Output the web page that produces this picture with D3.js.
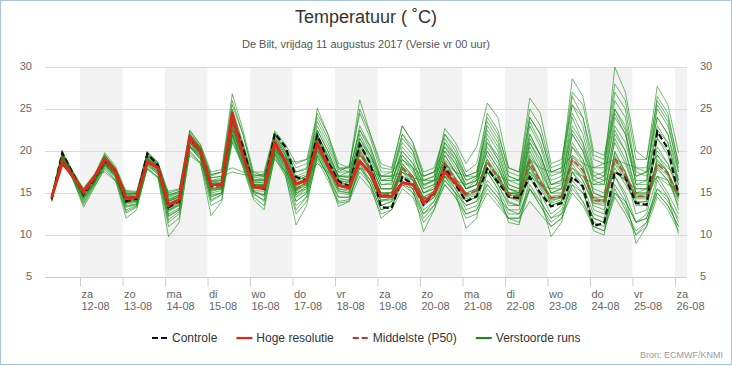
<!DOCTYPE html>
<html><head><meta charset="utf-8">
<script src="https://cdn.jsdelivr.net/npm/d3@7"></script>
<style>body{margin:0;background:#fff}svg{display:block}</style>
</head><body><svg id="c" width="732" height="366"></svg>
<script>
// ---- DATA ----
const dayNames = ["za","zo","ma","di","wo","do","vr","za","zo","ma","di","wo","do","vr","za"];
const dayDates = ["12-08","13-08","14-08","15-08","16-08","17-08","18-08","19-08","20-08","21-08","22-08","23-08","24-08","25-08","26-08"];
const yTicks = [5,10,15,20,25,30];
const seriesNames = ["Controle","Hoge resolutie","Middelste (P50)","Verstoorde runs"];

const controle = [14.3, 19.8,17.3,14.8,16.6, 18.8,17.6,14.0,14.3, 19.7,18.3,13.3,14.0, 21.5,20.0,15.8,16.0, 24.0,20.5,15.8,15.5, 22.1,20.5,16.9,16.5, 21.9,18.8,16.4,15.8, 20.8,18.5,13.3,13.2, 16.9,16.0,13.6,15.0, 18.1,16.0,14.0,14.6, 17.9,16.3,14.6,14.4, 16.9,15.0,13.4,13.8, 16.9,15.8,11.1,11.4, 17.5,16.9,13.8,13.6, 22.3,20.3,14.8];
const hogeResolutie = [14.5, 18.5,17.0,15.2,16.9, 19.1,17.6,14.4,14.5, 18.7,18.0,13.6,14.2, 21.7,20.0,16.0,16.0, 24.5,19.5,15.7,15.6, 21.1,18.7,16.1,16.5, 20.9,18.3,15.9,15.6, 18.8,17.3,14.6,14.6, 16.2,16.0,13.8,15.0, 17.5,16.2,14.8];
const middelste = [14.4, 19.3,17.1,14.9,16.6, 18.8,17.4,14.2,14.3, 19.0,18.0,13.4,14.0, 21.2,19.8,15.6,15.8, 23.0,19.5,15.8,15.8, 20.8,18.8,15.5,16.2, 21.0,18.3,16.0,15.7, 19.8,17.8,14.8,14.9, 18.0,16.8,14.3,15.0, 18.5,16.6,14.8,15.3, 18.7,16.9,14.8,14.6, 18.7,16.3,14.4,14.6, 19.0,17.7,14.1,14.0, 19.1,17.1,14.6,14.6, 18.5,17.3,14.6];

const run01 = [14.5, 19.6,17.3,15.0,16.8, 19.2,17.8,14.6,14.8, 19.5,18.3,14.0,14.6, 21.8,20.2,16.2,16.5, 24.5,20.5,16.5,16.8, 21.5,19.5,16.8,17.2, 22.0,19.5,17.0,16.8, 21.5,19.0,16.0,16.2, 20.0,18.5,15.5,16.0, 20.5,18.5,16.0,16.8, 21.5,19.0,15.5,15.2, 22.0,19.5,16.0,16.2, 24.0,21.0,17.0,17.5, 30.0,27.0,20.0,19.0, 27.7,25.5,19.8];
const run02 = [14.6, 19.8,17.5,15.4,17.0, 19.5,18.0,15.0,15.0, 19.8,18.5,14.8,15.2, 22.0,20.5,17.0,17.5, 25.5,22.0,17.2,17.0, 22.0,20.0,17.5,18.0, 23.5,21.0,17.8,18.0, 26.1,22.0,18.5,18.0, 23.0,21.0,17.0,17.5, 22.0,20.0,17.0,17.5, 23.0,21.0,17.0,16.5, 24.0,22.0,17.5,18.0, 28.6,26.5,20.0,19.5, 25.0,23.0,18.0,18.0, 24.0,22.0,17.5];
const run03 = [14.2, 19.0,17.0,14.5,16.2, 18.5,17.2,13.8,14.0, 19.2,18.0,13.0,13.8, 21.0,19.8,15.5,15.5, 23.5,19.8,15.8,15.5, 21.0,19.0,15.2,16.5, 21.5,19.0,16.5,16.2, 21.0,19.5,17.0,17.0, 21.5,20.0,16.5,17.0, 22.7,21.0,18.5,20.5, 25.7,24.0,18.0,17.5, 26.3,24.5,18.5,19.0, 25.5,24.0,19.0,18.5, 24.5,22.0,17.0,17.5, 25.0,23.0,18.0];
const run04 = [14.3, 19.4,17.2,15.2,16.9, 19.0,17.6,14.5,14.6, 18.8,17.8,14.2,14.8, 21.5,20.0,16.5,16.0, 23.0,20.0,16.0,16.0, 20.5,18.5,15.0,15.5, 25.1,22.0,18.0,17.5, 22.5,20.0,16.5,16.5, 19.5,18.0,15.0,15.5, 19.5,17.5,15.5,16.0, 20.5,18.5,15.0,15.0, 21.0,19.0,15.5,15.5, 22.0,20.0,16.5,17.0, 26.0,24.0,17.0,17.5, 26.5,24.5,18.5];
const run05 = [14.0, 18.8,16.6,13.3,15.6, 18.0,16.6,12.0,13.0, 18.0,16.9,9.8,11.5, 20.0,18.6,12.3,14.0, 22.0,18.0,14.2,13.0, 19.5,17.2,11.2,13.5, 19.5,17.0,13.4,14.0, 18.5,16.0,12.0,13.0, 17.0,15.5,10.4,13.0, 17.0,15.0,10.8,12.0, 17.5,15.5,11.5,11.2, 17.0,14.5,9.8,11.5, 17.5,15.5,10.5,10.0, 17.0,14.5,9.0,11.0, 16.5,14.5,10.2];
const run06 = [14.8, 18.6,16.8,15.6,17.2, 17.5,16.4,15.3,15.2, 17.8,16.8,15.2,15.5, 19.5,18.5,16.8,17.0, 17.5,17.2,17.0,17.2, 19.0,17.5,16.5,17.0, 18.5,17.5,17.0,17.5, 18.0,17.5,17.0,17.0, 17.5,16.8,16.5,16.5, 17.0,16.5,16.0,16.5, 17.5,16.5,15.0,15.0, 17.0,16.0,15.5,16.0, 18.0,17.0,16.0,16.5, 17.5,16.5,15.5,15.5, 17.0,16.0,15.5];
const run07 = [14.6, 19.1,17.2,15.3,16.5, 18.3,17.2,15.0,15.0, 18.5,17.5,14.8,15.0, 20.5,19.5,17.2,17.5, 18.0,17.5,17.5,17.0, 20.0,19.0,18.7,19.0, 20.0,18.5,17.5,18.3, 19.5,18.0,17.0,17.5, 19.0,18.0,17.0,17.5, 18.5,17.5,17.0,17.0, 18.0,17.0,16.5,16.5, 19.0,18.0,17.5,18.0, 19.5,18.5,18.0,18.5, 19.0,18.5,18.0,17.5, 19.5,18.0,17.0];
const run08 = [14.4, 19.5,17.2,15.0,16.7, 18.9,17.5,14.3,14.4, 19.1,18.1,13.6,14.2, 21.3,19.9,15.8,16.0, 23.5,19.8,16.0,15.9, 21.0,18.9,15.8,16.5, 21.2,18.5,16.2,16.0, 20.2,18.0,15.0,15.0, 18.5,17.0,14.5,15.2, 18.8,16.8,15.0,15.5, 19.0,17.0,14.5,14.2, 19.2,16.5,14.0,14.5, 19.5,18.0,14.5,14.0, 19.8,17.5,14.0,14.0, 19.0,17.5,14.5];
const run09 = [14.3, 19.2,17.0,14.7,16.5, 18.6,17.3,14.0,14.1, 18.8,17.9,13.0,13.6, 21.0,19.6,15.2,15.5, 22.5,19.2,15.5,15.5, 20.5,18.5,15.0,15.8, 20.5,18.0,15.5,15.2, 19.0,17.0,14.0,14.5, 17.5,16.5,13.5,14.5, 18.0,16.0,14.0,14.5, 18.0,16.0,13.5,13.5, 18.0,15.5,13.5,14.0, 18.5,16.5,13.5,13.0, 18.5,16.5,13.5,13.5, 18.0,16.5,13.5];
const run10 = [14.5, 19.4,17.1,15.1,16.8, 19.1,17.6,14.5,14.5, 19.4,18.2,13.8,14.4, 21.6,20.1,16.0,16.2, 24.0,20.0,16.2,16.2, 21.2,19.2,16.0,16.8, 21.8,19.0,16.5,16.3, 20.8,18.5,15.5,15.5, 19.0,17.5,15.0,15.5, 19.5,17.5,15.5,16.0, 20.0,18.0,15.0,14.8, 20.5,18.0,15.0,15.5, 21.0,19.0,15.5,15.0, 21.0,18.5,15.0,15.0, 20.5,18.5,15.0];
const run11 = [14.2, 19.0,16.9,14.4,16.3, 18.5,17.1,13.5,13.7, 18.6,17.6,12.5,13.2, 20.8,19.4,14.8,15.0, 22.0,18.8,15.0,14.8, 20.0,18.0,14.0,15.0, 20.0,17.5,15.0,14.8, 18.5,16.5,13.5,14.0, 16.5,15.5,12.5,14.0, 17.0,15.5,13.0,13.5, 16.5,15.0,12.5,12.5, 16.0,14.0,12.0,13.0, 16.5,15.0,12.0,11.5, 16.0,14.0,11.5,12.0, 15.5,14.0,12.0];
const run12 = [14.6, 19.7,17.4,15.3,17.0, 19.4,17.9,14.8,14.9, 19.7,18.5,14.5,15.0, 22.2,20.5,16.8,17.0, 25.0,21.0,16.8,17.0, 22.0,20.0,17.5,17.8, 23.0,20.5,17.5,17.5, 22.5,20.5,17.0,17.0, 21.0,19.5,16.5,17.0, 21.5,19.5,17.0,17.5, 22.5,20.5,16.5,16.0, 23.5,21.0,17.0,17.5, 25.5,23.0,17.5,17.0, 23.0,21.0,16.5,16.5, 22.5,21.0,16.5];
const run13 = [14.1, 18.9,16.7,13.8,16.0, 18.2,16.9,13.0,13.5, 18.3,17.2,11.5,12.5, 20.5,19.0,14.0,14.8, 21.5,18.5,15.0,14.0, 19.8,17.5,13.0,14.5, 19.5,17.0,14.0,14.2, 18.0,16.0,13.0,13.5, 16.5,15.0,12.0,13.5, 16.5,15.0,12.5,13.0, 16.0,14.5,12.0,12.0, 15.5,13.5,11.5,12.5, 16.0,14.0,11.5,11.0, 15.5,13.0,10.5,11.5, 15.0,13.5,11.0];
const run14 = [14.4, 19.3,17.1,14.9,16.6, 18.8,17.4,14.2,14.3, 19.0,18.0,13.3,14.0, 21.2,19.8,15.6,15.8, 23.0,19.5,15.8,15.8, 20.8,18.8,15.5,16.2, 21.0,18.3,16.0,15.7, 19.8,17.8,14.8,14.9, 18.0,16.8,14.3,15.0, 18.5,16.6,14.8,15.3, 18.7,16.9,14.8,14.6, 18.7,16.3,14.4,14.6, 19.0,17.7,14.1,14.0, 19.1,17.1,14.6,14.6, 18.5,17.3,14.6];
const run15 = [14.5, 19.6,17.4,15.2,16.9, 19.3,17.7,14.7,14.8, 19.6,18.4,14.1,14.7, 22.0,20.3,16.4,16.6, 24.8,20.8,16.6,16.6, 21.8,19.6,16.4,17.0, 22.5,20.0,17.0,17.0, 23.0,20.5,16.5,16.8, 22.0,20.0,16.0,16.5, 21.0,19.0,15.5,16.5, 23.5,21.5,17.0,16.5, 22.0,19.5,16.0,16.5, 23.0,21.0,16.5,16.0, 24.0,22.0,16.0,16.0, 23.0,21.0,16.0];
const run16 = [14.3, 19.1,17.0,14.6,16.4, 18.7,17.3,13.9,14.0, 18.9,17.9,12.8,13.5, 21.1,19.7,15.3,15.5, 22.8,19.3,15.6,15.4, 20.6,18.6,14.8,15.8, 20.8,18.2,15.5,15.4, 19.5,17.5,14.5,14.5, 18.5,17.0,14.0,14.8, 18.0,16.0,14.0,14.5, 19.5,17.5,14.0,13.5, 20.0,17.5,13.5,14.0, 20.5,18.5,13.0,12.5, 20.0,17.5,12.5,13.0, 19.5,17.5,13.0];
const run17 = [14.6, 19.5,17.3,15.1,16.9, 19.6,17.9,14.9,15.0, 19.8,18.6,14.6,15.2, 22.4,20.7,17.2,17.5, 26.0,22.0,17.0,17.3, 22.2,20.3,18.0,18.5, 24.0,21.5,18.0,18.0, 24.5,21.5,17.5,17.5, 22.0,20.5,17.0,17.5, 20.5,19.0,16.5,17.0, 24.5,22.5,17.5,17.0, 24.0,22.0,17.5,17.5, 26.5,24.0,18.0,18.0, 27.0,25.0,17.5,17.0, 25.5,23.5,17.5];
const run18 = [14.2, 18.9,16.8,14.2,16.1, 18.4,17.0,13.3,13.6, 18.5,17.5,12.2,13.0, 20.6,19.2,14.5,15.0, 21.8,18.6,15.2,14.6, 20.2,18.0,14.5,15.2, 20.2,17.8,15.2,15.0, 19.0,17.0,14.0,14.2, 17.5,16.0,13.5,14.5, 17.5,15.5,13.5,14.0, 17.5,15.5,13.0,13.0, 17.5,15.0,12.5,13.5, 17.5,16.0,12.5,12.0, 17.0,15.0,11.5,12.5, 17.0,15.0,12.5];
const run19 = [14.7, 19.9,17.6,15.5,17.1, 19.8,18.2,15.2,15.1, 19.9,18.7,15.0,15.4, 22.5,20.8,17.5,17.8, 26.8,22.5,17.5,17.5, 22.4,20.8,18.5,19.0, 24.5,22.0,18.5,18.0, 25.0,22.0,18.0,17.8, 23.0,21.0,17.5,18.0, 22.0,20.5,17.5,18.5, 24.0,22.0,18.0,17.5, 25.0,23.0,18.0,18.5, 27.0,25.5,19.5,19.0, 28.0,26.0,19.0,19.0, 26.0,24.0,18.5];
const run20 = [14.4, 19.2,17.0,14.8,16.6, 18.7,17.3,14.1,14.2, 18.9,17.9,13.2,13.9, 21.0,19.7,15.4,15.6, 22.7,19.3,15.7,15.6, 20.4,18.3,15.2,16.0, 20.5,18.0,15.8,15.5, 19.0,17.5,15.0,15.0, 17.0,16.5,14.0,14.5, 17.0,16.0,14.5,15.0, 18.0,16.5,14.5,14.0, 17.5,16.0,14.5,14.5, 17.5,17.0,14.5,14.5, 17.5,16.5,14.5,14.5, 17.0,16.5,14.5];
const run21 = [14.5, 19.4,17.2,15.0,16.7, 19.0,17.5,14.4,14.5, 19.2,18.1,13.7,14.3, 21.4,20.0,15.9,16.0, 23.8,19.8,16.0,16.0, 21.2,19.0,15.8,16.5, 21.5,18.8,16.3,16.0, 21.0,18.5,15.5,15.5, 19.5,18.0,15.5,16.0, 20.0,18.0,15.5,16.0, 21.0,19.0,15.5,15.0, 21.0,18.5,15.0,15.5, 22.0,20.0,15.0,14.5, 22.5,20.0,15.0,15.0, 21.5,19.5,15.0];
const run22 = [14.0, 18.7,16.6,13.6,15.8, 17.8,16.5,12.6,13.3, 17.9,16.9,11.0,12.0, 19.8,18.6,13.5,14.2, 21.0,18.2,14.5,13.5, 19.2,17.0,12.5,14.0, 19.0,16.5,13.8,14.0, 17.0,15.5,12.5,13.0, 15.5,14.5,11.5,13.0, 16.0,14.5,12.0,12.5, 15.0,13.5,12.0,12.0, 14.0,12.5,11.0,12.0, 15.0,13.5,11.0,10.5, 14.5,12.5,10.0,11.0, 14.5,13.0,10.5];
const run23 = [14.6, 19.7,17.5,15.3,17.0, 19.5,17.8,14.9,14.9, 19.3,18.2,14.3,14.8, 21.8,20.4,16.5,16.8, 24.2,20.2,16.4,16.5, 21.6,19.8,17.0,17.5, 22.5,20.0,16.8,16.5, 22.0,19.5,16.0,16.0, 20.5,19.0,15.8,16.5, 21.0,19.5,16.5,17.0, 22.0,20.0,16.0,15.5, 23.0,20.5,16.5,17.0, 24.5,22.0,17.0,16.5, 25.0,22.5,16.0,16.5, 24.0,22.0,16.5];
const run24 = [14.3, 19.0,16.9,14.5,16.2, 18.6,17.2,13.7,13.9, 18.7,17.7,12.9,13.6, 20.9,19.5,15.0,15.3, 22.3,19.0,15.3,15.2, 20.2,18.2,14.6,15.5, 20.3,17.8,15.3,15.0, 18.8,17.0,14.2,14.3, 17.8,16.5,14.0,14.8, 17.8,16.0,14.3,14.8, 18.0,16.0,13.8,13.5, 18.3,15.8,13.8,14.2, 18.0,16.5,13.8,13.5, 18.0,16.0,13.8,14.0, 17.8,16.5,14.0];
const run25 = [14.5, 19.4,17.2,15.0,16.8, 19.1,17.7,14.5,14.6, 19.5,18.3,14.0,14.5, 21.7,20.1,16.1,16.3, 23.5,20.0,16.2,16.3, 21.0,19.2,16.2,16.8, 21.8,19.2,16.7,16.5, 20.5,18.5,15.5,15.5, 19.0,17.8,15.0,15.8, 19.0,17.5,15.5,16.0, 20.0,18.0,15.5,15.0, 19.5,17.5,15.0,15.0, 20.5,19.0,15.0,14.5, 21.5,19.0,15.0,15.5, 20.0,18.5,15.5];
const run26 = [14.2, 19.0,16.8,14.3,16.2, 18.4,17.0,13.4,13.7, 18.4,17.4,12.3,13.0, 20.6,19.3,14.6,15.0, 22.0,18.8,15.2,14.8, 19.8,17.8,14.0,15.0, 19.8,17.3,14.5,14.5, 18.0,16.5,13.5,14.0, 16.0,15.5,13.0,14.0, 16.5,15.0,13.5,14.0, 16.0,14.5,13.0,12.5, 15.5,14.0,12.0,12.5, 16.0,15.0,12.0,11.5, 15.0,14.0,11.5,12.0, 15.5,14.5,11.5];
const run27 = [14.6, 19.6,17.3,15.1,16.8, 19.2,17.7,14.6,14.6, 19.4,18.3,14.0,14.6, 21.9,20.3,16.4,16.5, 24.2,20.5,16.4,16.5, 21.3,19.5,16.5,17.0, 22.0,19.5,17.0,17.0, 21.5,19.5,16.5,16.5, 20.0,18.5,16.0,16.5, 20.0,18.5,16.0,16.5, 21.0,19.5,16.0,15.5, 21.5,19.5,16.0,16.5, 22.5,20.5,16.0,16.0, 22.0,20.0,15.5,15.5, 21.5,20.0,16.0];
const run28 = [14.1, 18.8,16.7,14.0,16.0, 18.2,16.9,12.8,13.4, 18.2,17.3,11.8,12.8, 20.4,19.1,14.2,14.8, 21.2,18.4,14.8,14.2, 19.6,17.5,13.5,14.5, 19.3,17.0,14.5,14.5, 17.5,16.0,13.0,13.5, 16.0,15.0,12.5,13.5, 16.0,14.5,12.5,13.0, 15.5,14.0,12.0,11.5, 15.5,13.5,11.0,12.0, 15.5,14.0,11.0,10.5, 15.0,13.5,10.0,11.5, 15.0,13.5,11.0];
const run29 = [14.4, 19.2,17.1,14.8,16.5, 18.8,17.4,14.0,14.2, 19.0,18.0,13.5,14.0, 21.2,19.8,15.5,15.7, 22.5,19.4,15.7,15.7, 20.7,18.7,15.4,16.0, 20.7,18.1,15.8,15.6, 19.6,17.6,14.6,14.7, 17.8,16.6,14.2,14.8, 18.2,16.4,14.6,15.2, 18.5,16.6,14.5,14.3, 18.2,16.0,14.2,14.4, 18.8,17.3,13.8,13.8, 18.8,16.8,14.3,14.3, 18.2,17.0,14.3];
const run30 = [14.5, 19.3,17.2,15.0,16.7, 18.9,17.5,14.3,14.4, 19.1,18.1,13.6,14.2, 21.3,19.9,15.8,16.0, 23.2,19.6,15.9,15.9, 20.9,18.9,15.6,16.3, 21.1,18.4,16.1,15.8, 20.0,18.0,15.0,15.1, 18.2,17.0,14.5,15.2, 18.7,16.8,15.0,15.5, 19.0,17.2,15.0,14.8, 19.0,16.6,14.6,14.8, 19.3,18.0,14.3,14.2, 19.4,17.4,14.8,14.8, 18.8,17.5,14.8];

const runs = [run01,run02,run03,run04,run05,run06,run07,run08,run09,run10,run11,run12,run13,run14,run15,
              run16,run17,run18,run19,run20,run21,run22,run23,run24,run25,run26,run27,run28,run29,run30];

// forecast steps: every 6 hours from vr 11-08 08:00
const firstStep = new Date(2017, 7, 11, 8);
const times = controle.map((_, i) => d3.timeHour.offset(firstStep, 6 * i));

// ---- CHART ----
const W = 732, H = 366;
const svg = d3.select("#c");
const M = {left: 45, right: 687, top: 67, bottom: 277};
const FONT = "'Liberation Sans', Arial, sans-serif";

const x = d3.scaleTime()
  .domain([new Date(2017, 7, 11, 4, 14), new Date(2017, 7, 26, 6, 48)])
  .range([M.left, M.right]);
const y = d3.scaleLinear().domain([5, 30]).range([M.bottom, M.top]);

// frame
svg.append("rect").attr("x", 0.5).attr("y", 0.5).attr("width", W - 1).attr("height", H - 2)
  .attr("fill", "#fff").attr("stroke", "#a9c4dd").attr("stroke-width", 1);

// day bands
const days = d3.timeDay.range(new Date(2017, 7, 12), new Date(2017, 7, 27));
const clipId = "plotclip";
svg.append("clipPath").attr("id", clipId).append("rect")
  .attr("x", M.left).attr("y", M.top).attr("width", M.right - M.left).attr("height", M.bottom - M.top);
svg.append("g").attr("clip-path", `url(#${clipId})`)
  .selectAll("rect").data(days.filter((d, i) => i % 2 === 0)).join("rect")
  .attr("x", d => x(d)).attr("y", M.top)
  .attr("width", d => x(d3.timeDay.offset(d, 1)) - x(d))
  .attr("height", M.bottom - M.top).attr("fill", "#f2f2f2");

// grid
svg.append("g").selectAll("line").data(yTicks.filter(v => v > 5)).join("line")
  .attr("x1", M.left).attr("x2", M.right)
  .attr("y1", d => Math.round(y(d)) + 0.5).attr("y2", d => Math.round(y(d)) + 0.5)
  .attr("stroke", "#dadada").attr("stroke-width", 1);

// x axis
const xAxis = d3.axisBottom(x).tickValues(days).tickSize(9).tickFormat("");
const gx = svg.append("g").attr("transform", `translate(0,${Math.round(y(5)) + 0.5})`).call(xAxis);
gx.select(".domain").attr("stroke", "#c0d0e0").attr("d", `M${M.left},0H${M.right}`);
gx.selectAll(".tick line").attr("stroke", "#c0d0e0");
gx.selectAll(".tick").each(function(d, i) {
  const g = d3.select(this);
  const t = g.append("text").attr("x", 1).attr("fill", "#666")
    .style("font-family", FONT).style("font-size", "11px").attr("text-anchor", "start");
  t.append("tspan").attr("x", 1).attr("y", 20).text(dayNames[i]);
  t.append("tspan").attr("x", 1).attr("y", 32).text(dayDates[i]);
});

// y axes (left & right)
const yl = d3.axisLeft(y).tickValues(yTicks).tickSize(0).tickPadding(13);
const gyl = svg.append("g").attr("transform", `translate(${M.left},0)`).call(yl);
const yr = d3.axisRight(y).tickValues(yTicks).tickSize(0).tickPadding(13);
const gyr = svg.append("g").attr("transform", `translate(${M.right},0)`).call(yr);
[gyl, gyr].forEach(g => {
  g.select(".domain").remove();
  g.selectAll("text").attr("fill", "#666").style("font-family", FONT).style("font-size", "11px")
    .attr("dy", "0.2em");
});

// lines
const line = d3.line().x((d, i) => x(times[i])).y(d => y(d));
const plot = svg.append("g").attr("clip-path", `url(#${clipId})`);
plot.append("g").selectAll("path").data(runs).join("path")
  .attr("d", line).attr("fill", "none").attr("stroke", "#158c15")
  .attr("stroke-width", 1).attr("stroke-opacity", 0.6).attr("stroke-linejoin", "round");
plot.append("path").datum(controle).attr("d", line).attr("fill", "none")
  .attr("stroke", "#111").attr("stroke-width", 2.2).attr("stroke-dasharray", "6,3");
plot.append("path").datum(middelste).attr("d", line).attr("fill", "none")
  .attr("stroke", "#c0442a").attr("stroke-width", 2).attr("stroke-dasharray", "6,3").attr("stroke-opacity", 0.85);
plot.append("path").datum(hogeResolutie).attr("d", line).attr("fill", "none")
  .attr("stroke", "#e2261c").attr("stroke-width", 2.8).attr("stroke-linejoin", "round");

// titles
svg.append("text").attr("x", 366).attr("y", 23).attr("text-anchor", "middle")
  .attr("fill", "#333").style("font-family", FONT).style("font-size", "18px")
  .text("Temperatuur ( ˚C)");
svg.append("text").attr("x", 366).attr("y", 48).attr("text-anchor", "middle")
  .attr("fill", "#555").style("font-family", FONT).style("font-size", "11px")
  .text("De Bilt, vrijdag 11 augustus 2017 (Versie vr 00 uur)");

// legend
const legStyles = [
  {c: "#111", dash: "6,3", w: 2.2},
  {c: "#e2261c", dash: null, w: 2.2},
  {c: "#d0302a", dash: "6,3", w: 2},
  {c: "#158c15", dash: null, w: 2}
];
const leg = svg.append("g");
let lx = 0;
seriesNames.forEach((n, i) => {
  const g = leg.append("g").attr("transform", `translate(${lx},0)`);
  const s = legStyles[i];
  g.append("line").attr("x1", 0).attr("x2", 16).attr("y1", 0).attr("y2", 0)
    .attr("stroke", s.c).attr("stroke-width", s.w).attr("stroke-dasharray", s.dash);
  const t = g.append("text").attr("x", 20).attr("y", 4).attr("fill", "#333")
    .style("font-family", FONT).style("font-size", "12px").text(n);
  lx += 20 + t.node().getComputedTextLength() + 19;
});
const legW = lx - 19;
leg.attr("transform", `translate(${Math.round(366 - legW / 2)},338)`);

// credit
svg.append("text").attr("x", 723).attr("y", 358).attr("text-anchor", "end")
  .attr("fill", "#999").style("font-family", FONT).style("font-size", "9px")
  .text("Bron: ECMWF/KNMI");
</script></body></html>
